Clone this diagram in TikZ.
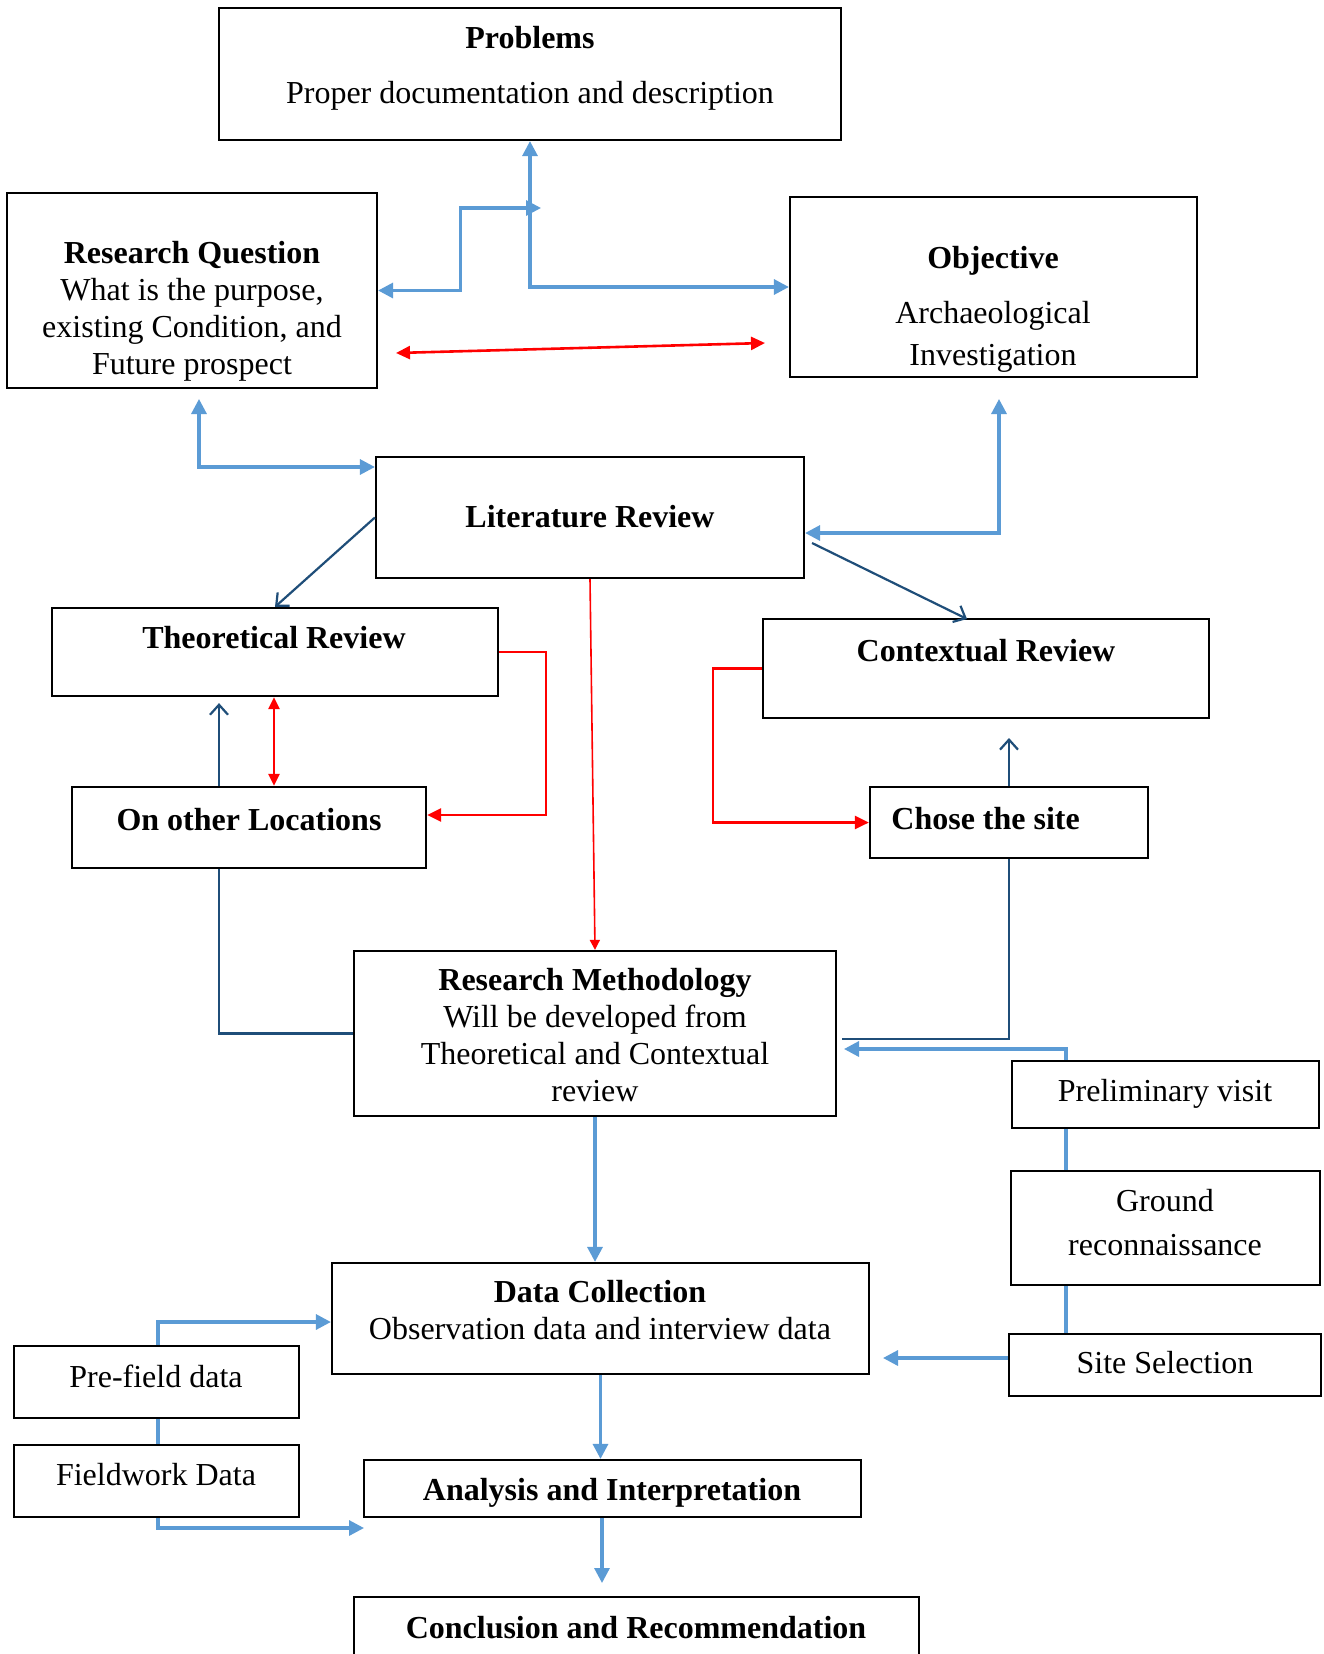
\documentclass[tikz,border=0pt]{standalone}
\usepackage{fontspec}
\setmainfont{Liberation Serif}
\usetikzlibrary{arrows.meta}
\definecolor{lineblue}{HTML}{5B9BD5}
\definecolor{linenavy}{HTML}{1F4E79}
\definecolor{linered}{HTML}{FF0000}

\begin{document}
\begin{tikzpicture}[x=0.5pt, y=-0.5pt,
    every node/.style={font=\fontsize{16}{18.5}\selectfont},
    box/.style={draw, line width=1.1pt, inner sep=0pt},
    txt/.style={align=center, inner sep=0pt, anchor=base},
    blu/.style={draw=lineblue, line width=1.6pt, >={Triangle[length=7.5pt,width=7.5pt]}},
    rd/.style={draw=linered, line width=1.3pt, >={Triangle[length=7pt,width=6.5pt]}},
    nav/.style={draw=linenavy, line width=1.1pt, >={Straight Barb[length=5pt,width=9pt]}}]
      \useasboundingbox[fill=white] (0,0) rectangle (1323,1654);

      % Boxes (name/centre x/centre y/width/height, in pixels)
      \foreach \n/\x/\y/\w/\h in {prob/530/74/622/132, rq/192/290.5/370/195,
          obj/993.5/287/407/180, lit/590/517.5/428/121, theo/275/652/446/88,
          ctx/986/668.5/446/99, oloc/249/827.5/354/81, site/1009/822.5/278/71,
          rm/595/1033.5/482/165, prel/1165.5/1094.5/307/67, gr/1165.5/1228/309/114,
          sel/1165/1365/312/62, dc/600.5/1318.5/537/111, pre/156.5/1382/285/72,
          fw/156.5/1481/285/72, ana/612.5/1488.5/497/57, conc/636.5/1638.5/565/83}
      {
        \node[box, minimum width=\w*0.5pt, minimum height=\h*0.5pt] (\n) at (\x,\y) {};
      }

      % Texts (base = baseline of the last line)
      \node[txt] (probT) at (530,103) {\textbf{Problems}\\[9pt]Proper documentation and description};
      \node[txt] (rqT) at (192,374) {\textbf{Research Question}\\What is the purpose,\\existing Condition, and\\Future prospect};
      \node[txt] (objT) at (993,365) {\textbf{Objective}\\[9pt]Archaeological\\[2.5pt]Investigation};
      \node[txt] (litT) at (590,527) {\textbf{Literature Review}};
      \node[txt] (theoT) at (274,648) {\textbf{Theoretical Review}};
      \node[txt] (ctxT) at (986,661) {\textbf{Contextual Review}};
      \node[txt] (olocT) at (249,830) {\textbf{On other Locations}};
      \node[txt, anchor=base west] (siteT) at (891,829) {\textbf{Chose the site}};
      \node[txt] (rmT) at (595,1101) {\textbf{Research Methodology}\\Will be developed from\\Theoretical and Contextual\\review};
      \node[txt] (prelT) at (1165,1101) {Preliminary visit};
      \node[txt] (grT) at (1165,1255) {Ground\\[3.5pt]reconnaissance};
      \node[txt] (selT) at (1165,1373) {Site Selection};
      \node[txt] (dcT) at (600,1339) {\textbf{Data Collection}\\Observation data and interview data};
      \node[txt] (preT) at (156,1387) {Pre-field data};
      \node[txt] (fwT) at (156,1485) {Fieldwork Data};
      \node[txt] (anaT) at (612,1500) {\textbf{Analysis and Interpretation}};
      \node[txt] (concT) at (636,1638) {\textbf{Conclusion and Recommendation}};

      % Free ends and trunk lines
      \coordinate (jn) at (541,208);
      \coordinate (rqB) at (199,399);
      \coordinate (objB) at (999,399);
      \coordinate (rqR) at (396,353);
      \coordinate (objL) at (765,343);
      \coordinate (litE) at (812,543);
      \coordinate (ctxN) at (967,619);
      \coordinate (ctxB) at (1009,738);
      \coordinate (trO) at (219,0);
      \coordinate (trT) at (274,0);
      \coordinate (rmE) at (842,1039);
      \coordinate (rmR) at (844,1049);
      \coordinate (trR) at (1066,0);
      \coordinate (dcR) at (883,1358);
      \coordinate (trL) at (158,0);
      \coordinate (anaL) at (364,1528);
      \coordinate (concA) at (602,1583);

      % Blue connectors
      \draw[blu, <->] (prob.south) |- (obj.west);
      \draw[blu, <->] (rq.east) -- ++(82,0) |- (jn);
      \draw[blu, <->] (rqB) |- (lit.west |- 0,467);
      \draw[blu, <->] (objB) |- (lit.east |- 0,533);
      \draw[blu, ->] (prel.north -| trR) |- (rmR);
      \draw[blu] (prel.south -| trR) -- (gr.north -| trR);
      \draw[blu] (gr.south -| trR) -- (sel.north -| trR);
      \draw[blu, ->] (sel.west |- dcR) -- (dcR);
      \draw[blu, ->] (rm.south) -- (rm.south |- dc.north);
      \draw[blu, ->] (pre.north -| trL) |- (dc.west |- 0,1322);
      \draw[blu] (pre.south -| trL) -- (fw.north -| trL);
      \draw[blu, ->] (fw.south -| trL) |- (anaL);
      \draw[blu, ->] (dc.south) -- (dc.south |- ana.north);
      \draw[blu, ->] (ana.south -| concA) -- (concA);

      % Red connectors
      \draw[rd, <->] (rqR) -- (objL);
      \draw[rd, ->] (theo.east) -- ++(47,0) |- (oloc.east |- 0,815);
      \draw[rd, <->, >={Triangle[length=6pt,width=5.5pt]}] (theo.south -| trT) -- (oloc.north -| trT);
      \draw[rd, ->] (ctx.west) -- ++(-49,0) |- (site.west);
      \draw[rd, ->, line width=0.8pt, >={Triangle[length=5pt,width=5pt]}] (lit.south) -- (rm.north);

      % Dark blue connectors
      \draw[nav, ->] (lit.west) -- (theo.north);
      \draw[nav, ->] (litE) -- (ctxN);
      \draw[nav, ->] (oloc.north -| trO) -- ([yshift=-3pt]theo.south -| trO);
      \draw[nav, ->] (site.north) -- (ctxB);
      \draw[nav] (oloc.south -| trO) |- (rm.west);
      \draw[nav] (site.south) |- (rmE);
    \end{tikzpicture}
\end{document}
